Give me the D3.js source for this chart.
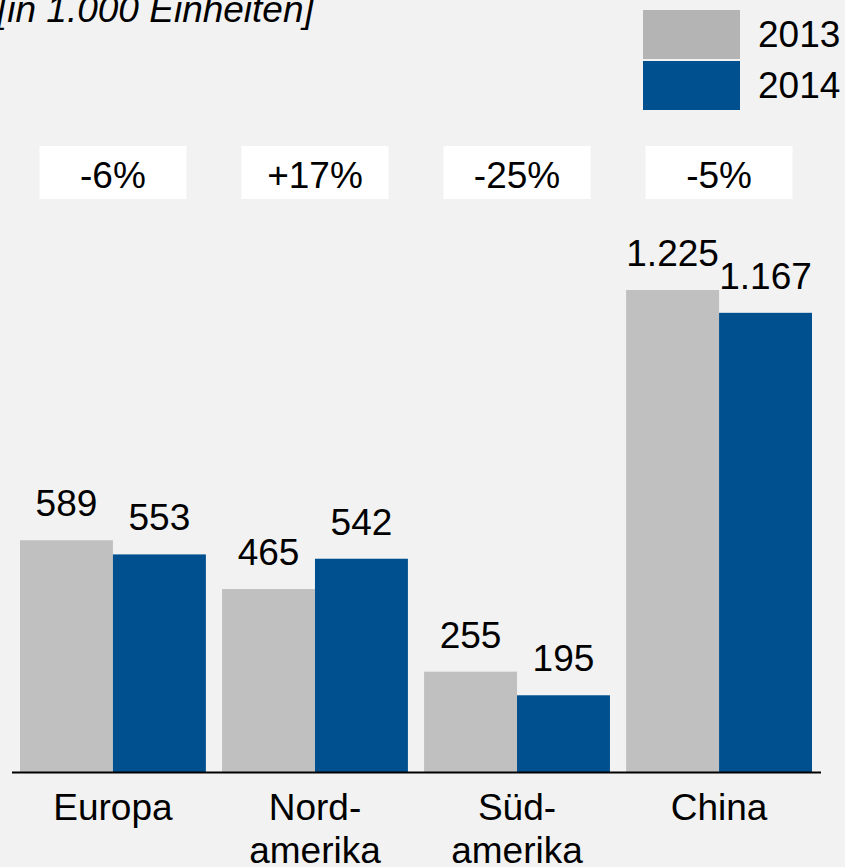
<!DOCTYPE html>
<html>
<head>
<meta charset="utf-8">
<script src="https://cdn.jsdelivr.net/npm/d3@7"></script>
<style>
  body { margin: 0; background: #f2f2f2; }
  svg { display: block; font-family: "Liberation Sans", Arial, sans-serif; }
</style>
</head>
<body>
<svg width="845" height="867"></svg>
<script>
  const regions = ['Europa', 'Nord-\namerika', 'Süd-\namerika', 'China'];
  const years = ['2013', '2014'];
  const values2013 = [589, 465, 255, 1225];
  const values2014 = [553, 542, 195, 1167];
  const changes = ['-6%', '+17%', '-25%', '-5%'];
  const unitLabel = '[in 1.000 Einheiten]';

  const barColors = { '2013': '#c0c0c0', '2014': '#00508f' };
  const legendColors = { '2013': '#b4b4b4', '2014': '#00508f' };
  const numFormat = d3.formatLocale({ decimal: ',', thousands: '.', grouping: [3], currency: ['', '€'] }).format(',');

  const rows = regions.map((r, i) => ({
    region: r,
    change: changes[i],
    bars: [
      { year: '2013', value: values2013[i] },
      { year: '2014', value: values2014[i] }
    ]
  }));

  const svg = d3.select('svg');
  svg.append('rect').attr('width', 845).attr('height', 867).attr('fill', '#f2f2f2');

  const x = d3.scaleBand().domain(regions).range([20, 812]).paddingInner(0.08);
  const xInner = d3.scaleBand().domain(years).range([0, x.bandwidth()]);
  const y = d3.scaleLinear().domain([0, 1225]).range([772, 290]);

  // title
  svg.append('text')
    .attr('x', -3).attr('y', 22)
    .attr('font-size', 37).attr('font-style', 'italic')
    .text(unitLabel);

  // legend
  const legend = svg.append('g').attr('transform', 'translate(643, 10)');
  years.forEach((yr, i) => {
    legend.append('rect')
      .attr('x', 0).attr('y', i * 51)
      .attr('width', 97).attr('height', 49)
      .attr('fill', legendColors[yr]);
    legend.append('text')
      .attr('x', 115).attr('y', i * 51 + 37)
      .attr('font-size', 37)
      .text(yr);
  });

  // groups
  const groups = svg.selectAll('g.group')
    .data(rows)
    .enter().append('g')
      .attr('class', 'group')
      .attr('transform', d => `translate(${x(d.region)}, 0)`);

  // change boxes
  groups.append('rect')
    .attr('x', x.bandwidth() / 2 - 73.5)
    .attr('y', 146)
    .attr('width', 147).attr('height', 53)
    .attr('fill', '#ffffff');
  groups.append('text')
    .attr('x', x.bandwidth() / 2)
    .attr('y', 188)
    .attr('text-anchor', 'middle')
    .attr('font-size', 37)
    .text(d => d.change);

  // bars
  groups.selectAll('rect.bar')
    .data(d => d.bars)
    .enter().append('rect')
      .attr('class', 'bar')
      .attr('x', d => xInner(d.year))
      .attr('y', d => y(d.value))
      .attr('width', xInner.bandwidth())
      .attr('height', d => y(0) - y(d.value))
      .attr('fill', d => barColors[d.year]);

  groups.selectAll('text.val')
    .data(d => d.bars)
    .enter().append('text')
      .attr('class', 'val')
      .attr('x', d => xInner(d.year) + xInner.bandwidth() / 2)
      .attr('y', d => y(d.value) - 24)
      .attr('text-anchor', 'middle')
      .attr('font-size', 37)
      .text(d => numFormat(d.value));

  // category labels
  groups.append('text')
    .attr('text-anchor', 'middle')
    .attr('font-size', 37)
    .selectAll('tspan')
    .data(d => d.region.split('\n'))
    .enter().append('tspan')
      .attr('x', x.bandwidth() / 2)
      .attr('y', (d, i) => 820 + i * 43)
      .text(d => d);

  // baseline
  svg.append('line')
    .attr('x1', 12).attr('x2', 821)
    .attr('y1', y(0) + 0.5).attr('y2', y(0) + 0.5)
    .attr('stroke', '#000').attr('stroke-width', 2);
</script>
</body>
</html>
